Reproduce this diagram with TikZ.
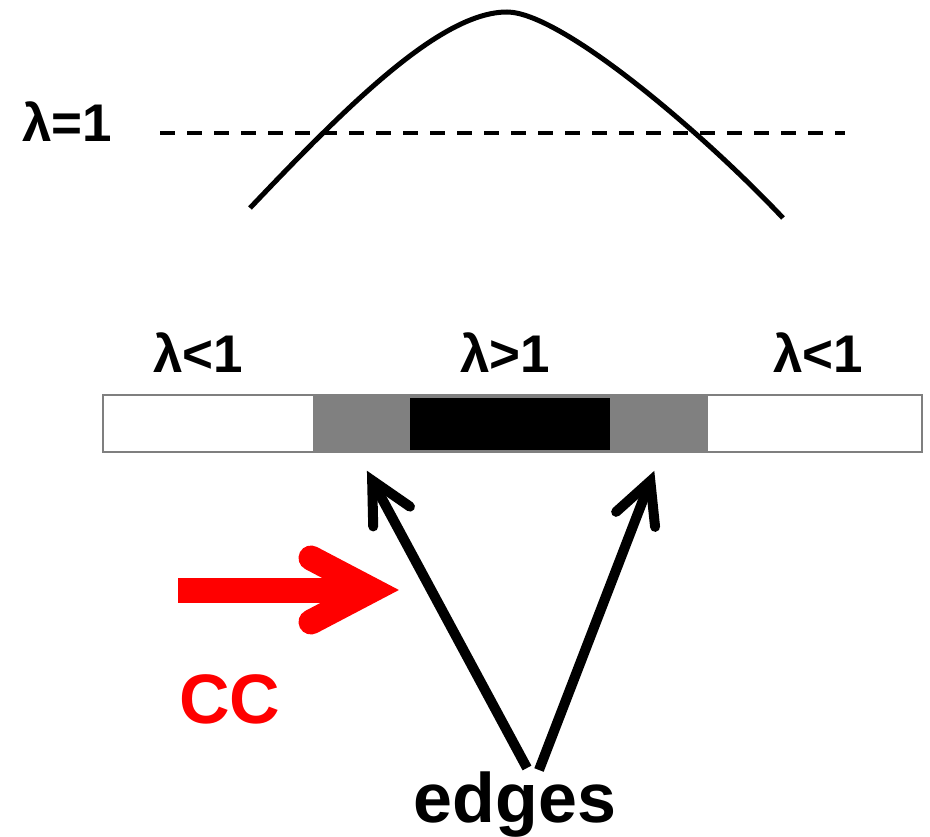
\documentclass[tikz,border=0pt]{standalone}
\usepackage{fontspec}
\setmainfont{Liberation Sans}
\usetikzlibrary{calc}
\definecolor{barline}{HTML}{7F7F7F}
\definecolor{midgray}{HTML}{808080}
\definecolor{ccred}{HTML}{FF0000}
\begin{document}
\begin{tikzpicture}[x=1pt,y=-1pt,
  lab/.style={font=\fontsize{53}{60}\selectfont\bfseries, inner sep=0pt, anchor=base},
  big/.style={font=\fontsize{70}{80}\selectfont\bfseries, inner sep=0pt, anchor=base},
  edgearrow/.style={line width=10pt, black},
  edgehead/.style={line width=10pt, black, line cap=round, line join=miter, miter limit=20},
  redshaft/.style={ccred, line width=25pt},
  redhead/.style={ccred, line width=25pt, line cap=round, line join=miter, miter limit=20},
  curve/.style={line width=5pt},
  level/.style={line width=4pt, dash pattern=on 15pt off 12pt}
]
\useasboundingbox (0,0) rectangle (930,837);

% curve
\coordinate (cl) at (250,208);
\coordinate (cp) at (507,12);
\coordinate (cr) at (783,218);
\draw[curve] (cl) .. controls (345,108) and (440,12) .. (cp)
                  .. controls (560,12) and (700,130) .. (cr);

% dashed level
\coordinate (dl) at (160,133);
\coordinate (dr) at (845,133);
\draw[level] (dl) -- (dr);

% labels
\node[lab] (l1) at (67,142) {λ=1};
\node[lab] (lleft) at (198,372) {λ<1};
\node[lab] (lmid) at (505,372) {λ>1};
\node[lab] (lright) at (818,372) {λ<1};

% bar
\draw[draw=barline, line width=2pt, fill=white] (103,395) rectangle (922,452);
\fill[midgray] (313,394) rectangle (708,453);
\fill[black] (410,398) rectangle (610,450);

% texts
\node[big] (edges) at (515,822) {edges};
\node[big, text=ccred] (cc) at (230,723) {CC};

% black arrows
\coordinate (tipL) at (366,469);
\coordinate (tailL) at (527,768);
\coordinate (tipR) at (655,469);
\coordinate (tailR) at (539,770);
\coordinate (VL) at ($(tipL)!13pt!(tailL)$);
\coordinate (VR) at ($(tipR)!13pt!(tailR)$);
\draw[edgearrow] (tailL) -- (VL);
\draw[edgehead] ($(VL)!46pt!27:(tailL)$) -- (VL) -- ($(VL)!46pt!-27:(tailL)$);
\draw[edgearrow] (tailR) -- (VR);
\draw[edgehead] ($(VR)!46pt!27:(tailR)$) -- (VR) -- ($(VR)!46pt!-27:(tailR)$);

% red arrow
\coordinate (ccstart) at (178,590);
\coordinate (cctip) at (372,590);
\coordinate (ccarmA) at (311,558);
\coordinate (ccarmB) at (311,622);
\draw[redshaft] (ccstart) -- (cctip);
\draw[redhead] (ccarmA) -- (cctip) -- (ccarmB);
\end{tikzpicture}
\end{document}
